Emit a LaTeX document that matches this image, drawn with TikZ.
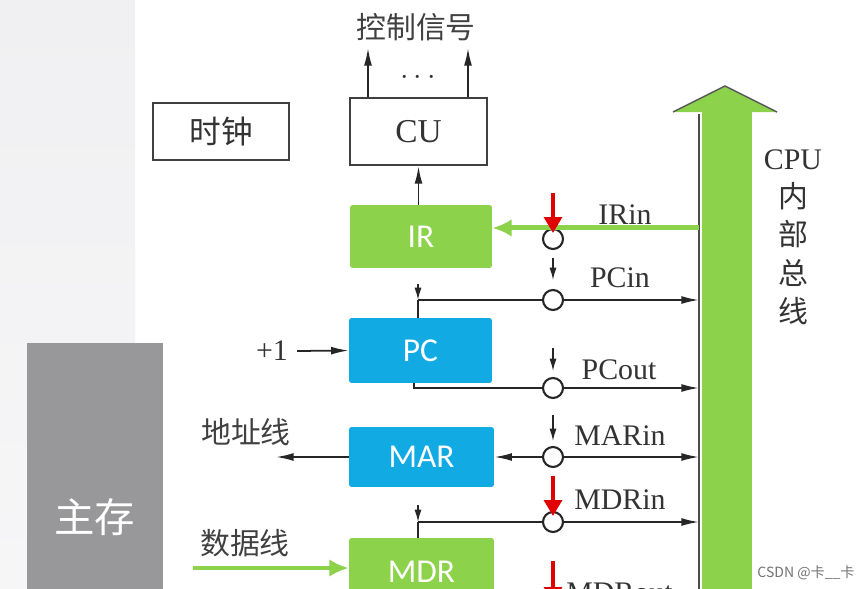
\documentclass[tikz,border=0pt]{standalone}
\usepackage{fontspec}
\setmainfont{Liberation Serif}
\newfontfamily\cjk{Noto Sans CJK SC}
\newfontfamily\regfont{Carlito}
\usetikzlibrary{arrows.meta,calc,positioning}

\definecolor{regGreen}{HTML}{8CD24B}
\definecolor{regBlue}{HTML}{12AAE2}
\definecolor{memGray}{HTML}{98989A}
\definecolor{sigRed}{HTML}{E00000}
\definecolor{stripGray}{HTML}{F0F0F2}

\tikzset{
  wbox/.style={draw=black!75, line width=1.2pt, fill=white, inner sep=0pt},
  regbox/.style={fill=#1, rounded corners=1.5pt, text=white, inner sep=0pt,
    font=\regfont\fontsize{19}{19}\selectfont},
  gate/.style={circle, draw=black!85, line width=1.2pt, fill=white,
    minimum size=0.4cm, inner sep=0pt},
  wire/.style={line width=1pt, draw=black!85},
  sig/.style={wire, -{Latex[length=10pt,width=4.5pt]}},
  ctl/.style={line width=0.8pt, draw=black!85,
    -{Latex[length=7pt,width=4pt]}},
  redsig/.style={line width=2.8pt, draw=sigRed,
    -{Triangle[length=9pt,width=10pt]}},
  greenbus/.style={line width=2.8pt, draw=regGreen,
    -{Latex[length=11pt,width=10pt]}},
  lbl/.style={text=black!80, inner sep=0pt, font=\fontsize{17}{17}\selectfont},
  cjklbl/.style={text=black!75, inner sep=0pt, font=\cjk\fontsize{17}{17}\selectfont}
}

\begin{document}
\begin{tikzpicture}[x=0.02cm, y=-0.02cm]
  \useasboundingbox (0,0) rectangle (867,589);
  \clip (0,0) rectangle (867,589);
  \shade[top color=stripGray, bottom color=stripGray!60] (0,0) rectangle (135,589);

  % boxes
  \node[wbox, minimum width=2.72cm, minimum height=1.14cm,
    font=\cjk\fontsize{18}{18}\selectfont, text=black!80] (clk) at (221,131.5) {时钟};
  \node[wbox, minimum width=2.74cm, minimum height=1.34cm,
    font=\fontsize{19}{19}\selectfont, text=black!80] (cu) at (418.5,131.5) {CU};
  \node[regbox=regGreen, minimum width=2.84cm, minimum height=1.26cm] (ir) at (421,236.5) {IR};
  \node[regbox=regBlue, minimum width=2.86cm, minimum height=1.3cm] (pc) at (420.5,350.5) {PC};
  \node[regbox=regBlue, minimum width=2.9cm, minimum height=1.2cm] (mar) at (421.5,457) {MAR};
  \node[regbox=regGreen, minimum width=2.9cm, minimum height=1.36cm] (mdr) at (421.5,572) {MDR};
  \node[fill=memGray, minimum width=2.72cm, minimum height=6.96cm, inner sep=0pt,
    text=white, font=\cjk\fontsize{23}{23}\selectfont] (mem) at (95,517) {主存};

  % CPU internal bus
  \fill[regGreen] (702,112) rectangle (752,600);
  \fill[regGreen] (673,112) -- (725,86) -- (777,112) -- cycle;
  \draw[black!65, line width=0.8pt] (673,112) -- (725,86) -- (777,112);
  \draw[black!70, line width=1pt] (699,114) coordinate (bus) -- (699,600);
  \node[lbl, align=center, font=\fontsize{17}{21.8}\selectfont] (buslbl) at (793,237)
    {CPU\\{\cjk 内}\\{\cjk 部}\\{\cjk 总}\\{\cjk 线}};

  % control unit
  \coordinate (ctl-l) at (368,48);
  \coordinate (ctl-r) at (468,48);
  \draw[sig] (cu.north -| ctl-l) -- (ctl-l);
  \draw[sig] (cu.north -| ctl-r) -- (ctl-r);
  \node[lbl, font=\fontsize{19}{19}\selectfont] (dots) at (418,78) {$\cdots$};
  \node[cjklbl] (ctltxt) at (416,27) {控制信号};
  \draw[sig] (ir.north -| cu.south) -- (cu.south);

  % gates
  \node[gate] (g-irin) at (553,239) {};
  \node[gate] (g-pcin) at (553,300) {};
  \node[gate] (g-pcout) at (553,388) {};
  \node[gate] (g-marin) at (553,457) {};
  \node[gate] (g-mdrin) at (553,522) {};

  % IRin
  \draw[greenbus] (g-irin.north -| bus) -- (g-irin.north -| ir.east);
  \coordinate (irin-s) at (553,193);
  \draw[redsig] (irin-s) -- ++(0,40);
  \node[lbl] (irin) at (625,215) {IRin};

  % PCin
  \coordinate (pcin-j) at (418,300);
  \coordinate (pcin-t) at (418,284);
  \draw[ctl] (pcin-t) -- (pcin-j);
  \draw[wire] (pcin-j) -- (pcin-j |- pc.north);
  \draw[wire] (pcin-j) -- (g-pcin.west);
  \draw[sig] (g-pcin.east) -- (g-pcin -| bus);
  \coordinate (pcin-s) at (553,258);
  \draw[ctl] (pcin-s) -- ++(0,22);
  \node[lbl] (pcin) at (620,278) {PCin};

  % +1
  \node[lbl] (plus1) at (272,351) {+1};
  \draw[sig] ([xshift=5pt]plus1.east) -- (pc.west);

  % PCout
  \coordinate (pcout-j) at (414,388);
  \draw[wire] (pcout-j |- pc.south) -- (pcout-j) -- (g-pcout.west);
  \draw[sig] (g-pcout.east) -- (g-pcout -| bus);
  \coordinate (pcout-s) at (553,348);
  \draw[ctl] (pcout-s) -- ++(0,23);
  \node[lbl] (pcout) at (619,370) {PCout};

  % MAR
  \coordinate (addr-out) at (276,457);
  \draw[sig] (mar.west) -- (addr-out);
  \node[cjklbl] (addr) at (246,432) {地址线};
  \draw[wire, {Latex[length=10pt,width=4.5pt]}-] (mar.east) -- (g-marin.west);
  \draw[sig] (g-marin.east) -- (g-marin -| bus);
  \coordinate (marin-s) at (553,415);
  \draw[ctl] (marin-s) -- ++(0,26);
  \node[lbl] (marin) at (620,436) {MARin};

  % MDRin
  \coordinate (mdrin-j) at (418,522);
  \coordinate (mdrin-t) at (418,505);
  \draw[ctl] (mdrin-t) -- (mdrin-j);
  \draw[wire] (mdrin-j) -- (mdrin-j |- mdr.north);
  \draw[wire] (mdrin-j) -- (g-mdrin.west);
  \draw[sig] (g-mdrin.east) -- (g-mdrin -| bus);
  \coordinate (mdrin-s) at (553,476);
  \draw[redsig] (mdrin-s) -- ++(0,40);
  \node[lbl] (mdrin) at (620,500) {MDRin};

  % MDR data line
  \node[cjklbl] (data) at (245,543) {数据线};
  \coordinate (data-in) at (193,568);
  \draw[greenbus] (data-in) -- (data-in -| mdr.west);

  % MDRout
  \node[lbl, anchor=west] (mdrout) at (566,593) {MDRout};
  \coordinate (mdrout-s) at (553,561);
  \draw[redsig] (mdrout-s) -- ++(0,42);

  % watermark
  \node[text=black!55, inner sep=0pt, font=\cjk\fontsize{8}{8}\selectfont] (mark) at (806,573) {CSDN @卡\_\_卡};
\end{tikzpicture}
\end{document}
